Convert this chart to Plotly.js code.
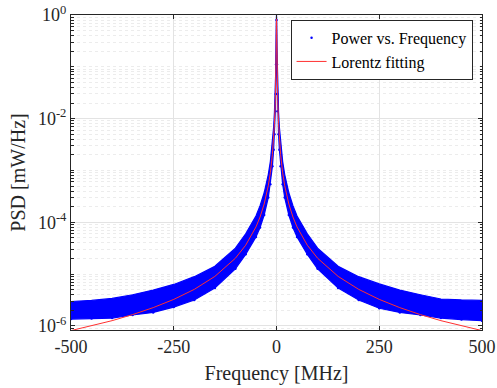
<!DOCTYPE html>
<html>
<head>
<meta charset="utf-8">
<script src="https://cdn.plot.ly/plotly-3.0.1.min.js"></script>
<style>html,body{margin:0;padding:0;background:#fff;}#chart{width:497px;height:388px;}</style>
</head>
<body>
<div id="chart"></div>
<script>
// Frequency grid [MHz] at which the measured band and the fit were read
const freq = [-500,-450,-400,-350,-300,-250,-200,-150,-100,-75,-50,-40,-30,-20,-15,-10,-7,-5,-3,-2,-1,0,1,2,3,5,7,10,15,20,30,40,50,75,100,150,200,250,300,350,400,450,500];

// Measured PSD scatter: upper and lower envelope of the dense point cloud [mW/Hz]
const psdUpper = [2.95e-6,3.1e-6,3.39e-6,3.98e-6,4.9e-6,6.3e-6,8.9e-6,1.41e-5,3.16e-5,6.0e-5,1.32e-4,2.09e-4,3.7e-4,8.3e-4,1.48e-3,3.3e-3,6.8e-3,1.32e-2,3.5e-2,7.6e-2,0.25,1.0,
                  0.25,7.6e-2,3.5e-2,1.32e-2,6.8e-3,3.3e-3,1.48e-3,8.3e-4,3.7e-4,2.09e-4,1.32e-4,6.0e-5,3.16e-5,1.41e-5,8.9e-6,6.46e-6,4.9e-6,3.98e-6,3.3e-6,3.16e-6,3.09e-6];
const psdLower = [1.35e-6,1.38e-6,1.41e-6,1.62e-6,1.82e-6,2.3e-6,3.16e-6,5.4e-6,1.26e-5,2.4e-5,5.2e-5,7.9e-5,1.38e-4,3.0e-4,5.4e-4,1.2e-3,2.5e-3,5.0e-3,1.38e-2,3.0e-2,0.112,0.8,
                  0.112,3.0e-2,1.38e-2,5.0e-3,2.5e-3,1.2e-3,5.4e-4,3.0e-4,1.38e-4,7.9e-5,5.2e-5,2.4e-5,1.26e-5,5.4e-6,3.16e-6,2.19e-6,1.82e-6,1.62e-6,1.41e-6,1.32e-6,1.26e-6];

// Lorentz fitting curve [mW/Hz]
const fitPsd = [8.1e-7,1.0e-6,1.26e-6,1.65e-6,2.25e-6,3.24e-6,5.06e-6,9.0e-6,2.02e-5,3.6e-5,8.1e-5,1.26e-4,2.25e-4,5.06e-4,9.0e-4,2.02e-3,4.1e-3,8.0e-3,2.2e-2,4.8e-2,0.168,1.0,
                0.168,4.8e-2,2.2e-2,8.0e-3,4.1e-3,2.02e-3,9.0e-4,5.06e-4,2.25e-4,1.26e-4,8.1e-5,3.6e-5,2.02e-5,9.0e-6,5.06e-6,3.24e-6,2.25e-6,1.65e-6,1.26e-6,1.0e-6,8.1e-7];

// Tick labels
const xTickVals = [-500,-250,0,250,500];
const xTickText = ["-500","-250","0","250","500"];
const yTickVals = [1e-6,1e-4,1e-2,1];
const yTickText = ["10<sup>-6</sup>","10<sup>-4</sup>","10<sup>-2</sup>","10<sup>0</sup>"];

const seriesNames = ["Power vs. Frequency","Lorentz fitting"];

// minor log ticks (styling)
const minorVals = [];
for (let n = -7; n <= 0; n++) {
  for (let k = 1; k <= 9; k++) {
    const v = k * Math.pow(10, n);
    if (k === 1 && n % 2 === 0) continue;
    minorVals.push(v);
  }
}

const blue = '#0000ff';
const fontFam = 'Liberation Serif';

const traces = [
  {x: freq, y: psdLower, type: 'scatter', mode: 'lines', line: {color: blue, width: 1.2},
   showlegend: false, hoverinfo: 'skip'},
  {x: freq, y: psdUpper, type: 'scatter', mode: 'lines', fill: 'tonexty', fillcolor: blue,
   line: {color: blue, width: 1.2}, showlegend: false, hoverinfo: 'skip'},
  {x: freq, y: psdLower, type: 'scatter', mode: 'markers', name: seriesNames[0],
   marker: {color: blue, size: 2.5}},
  {x: freq, y: fitPsd, type: 'scatter', mode: 'lines', name: seriesNames[1],
   line: {color: '#ff3030', width: 1}}
];

const axisCommon = {
  showline: true, linecolor: '#262626', linewidth: 1, mirror: 'ticks',
  ticks: 'inside', ticklen: 4, tickcolor: '#262626', tickwidth: 1,
  zeroline: false, tickfont: {family: fontFam, size: 18, color: '#262626'}
};

const layout = {
  width: 497, height: 388,
  margin: {l: 71, r: 15, t: 15, b: 58},
  paper_bgcolor: '#fff', plot_bgcolor: '#fff',
  font: {family: fontFam, color: '#262626'},
  xaxis: Object.assign({}, axisCommon, {
    range: [-500, 500], tickmode: 'array', tickvals: xTickVals, ticktext: xTickText,
    showgrid: true, gridcolor: '#e3e3e3', gridwidth: 1,
    title: {text: 'Frequency [MHz]', font: {family: fontFam, size: 20, color: '#262626'}, standoff: 10}
  }),
  yaxis: Object.assign({}, axisCommon, {
    type: 'log', range: [-6.08, 0], tickmode: 'array', tickvals: yTickVals, ticktext: yTickText,
    showgrid: true, gridcolor: '#e3e3e3', gridwidth: 1,
    minor: {tickmode: 'array', tickvals: minorVals, ticks: 'inside', ticklen: 2.5, tickcolor: '#262626',
            showgrid: true, gridcolor: '#ececec', griddash: 'dot', gridwidth: 1},
    title: {text: 'PSD [mW/Hz]', font: {family: fontFam, size: 20, color: '#262626'}, standoff: 6}
  }),
  legend: {
    x: 0.977, xanchor: 'right', y: 0.985, yanchor: 'top',
    bgcolor: '#fff', bordercolor: '#262626', borderwidth: 1,
    font: {family: fontFam, size: 16, color: '#000'},
    traceorder: 'normal', tracegroupgap: 0
  },
  showlegend: true
};

Plotly.newPlot('chart', traces, layout, {staticPlot: true, displayModeBar: false});
</script>
</body>
</html>
